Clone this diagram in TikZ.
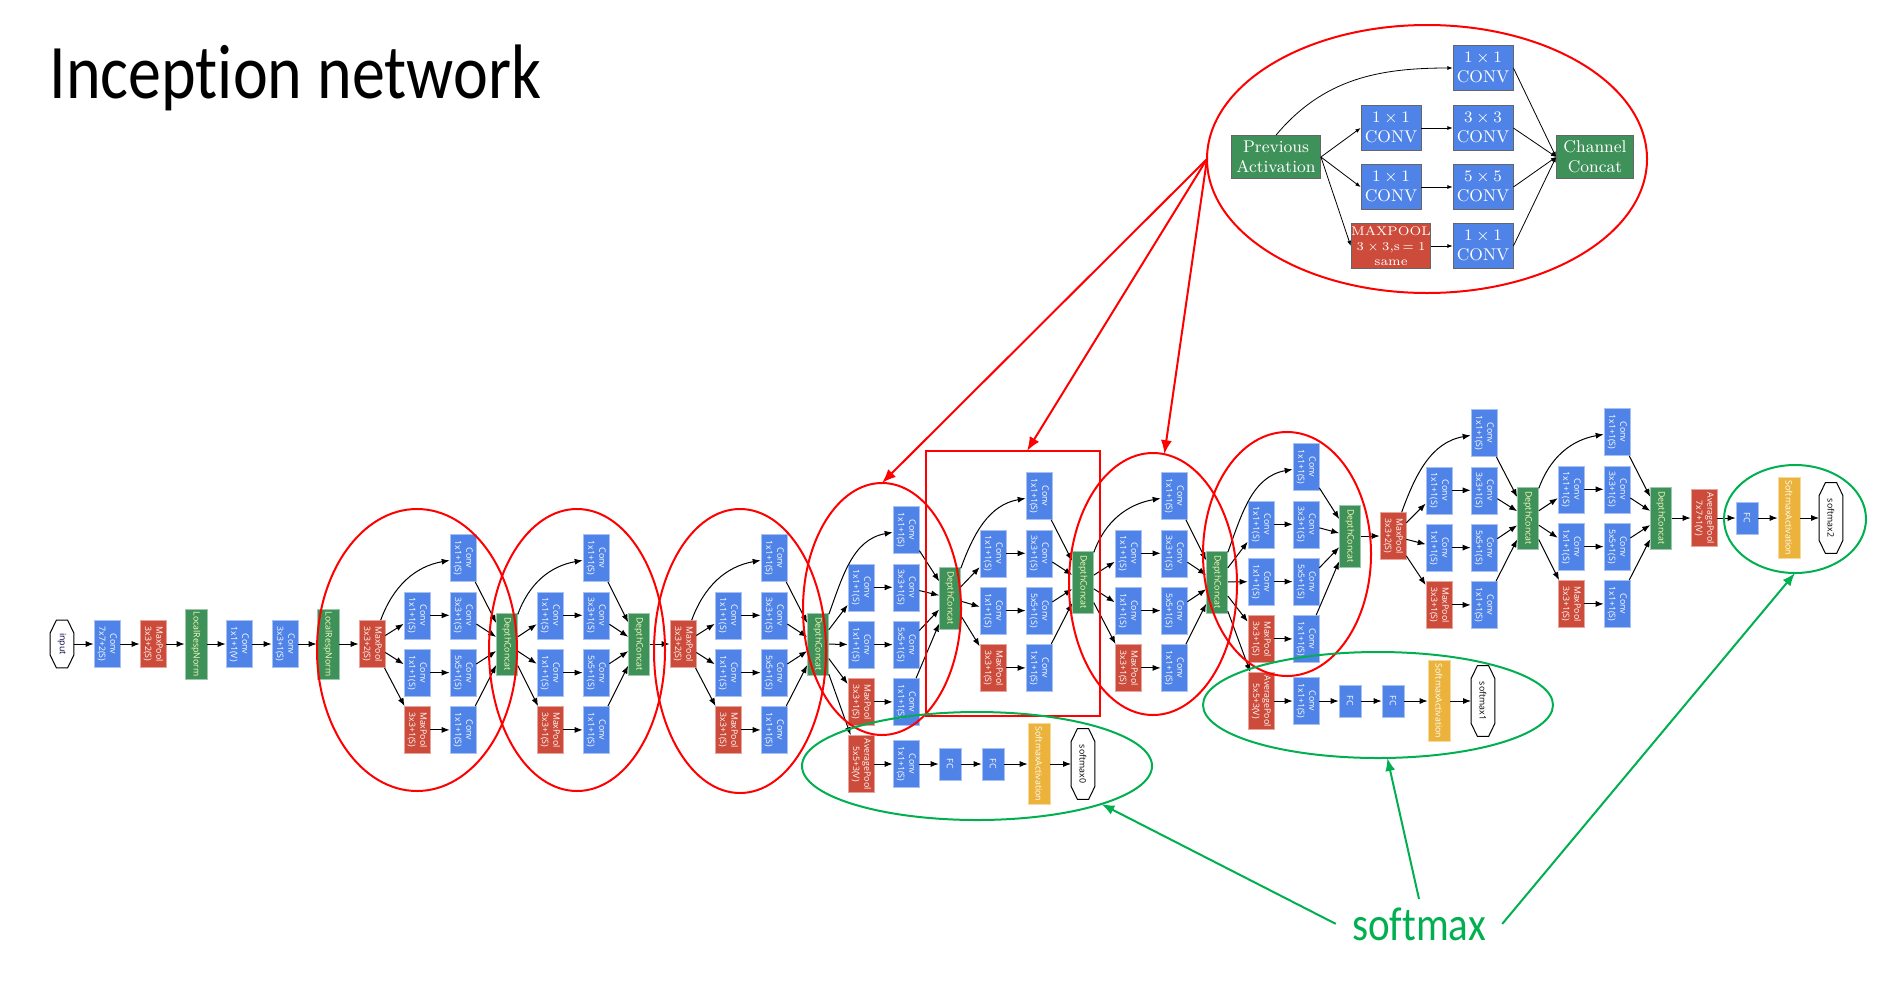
\documentclass[tikz,border=0pt]{standalone}
\usepackage{fontspec}
\usepackage{graphicx}
\usetikzlibrary{shapes.geometric,arrows.meta}
\newfontfamily\slidefont{Carlito}[Ligatures=NoCommon]
\newfontfamily\netfont{Open Sans}
\definecolor{convblue}{HTML}{4F83E8}
\definecolor{poolred}{HTML}{CC4B3A}
\definecolor{catgreen}{HTML}{3E9158}
\definecolor{actyellow}{HTML}{EBB33B}
\definecolor{ringgreen}{HTML}{00B050}
% rotated labels, read from top to bottom
\newcommand{\twol}[2]{\rotatebox{-90}{\begin{tabular}{@{}c@{}}#1\\#2\end{tabular}}}
\newcommand{\onel}[1]{\rotatebox{-90}{#1}}
% octagon outline round a terminal node
\newcommand{\octo}[1]{\draw[line width=0.5pt] ([xshift=-2.8pt]#1.north) -- ([xshift=2.8pt]#1.north)
  -- ([yshift=-6.5pt]#1.north east) -- ([yshift=6.5pt]#1.south east) -- ([xshift=2.8pt]#1.south)
  -- ([xshift=-2.8pt]#1.south) -- ([yshift=6.5pt]#1.south west) -- ([yshift=-6.5pt]#1.north west) -- cycle;}

\begin{document}
\begin{tikzpicture}[x=0.5pt,y=-0.5pt,
    net/.style={inner sep=0pt,font=\netfont\fontsize{4.4}{5.6}\selectfont,text=white},
    conv/.style={net,fill=convblue,draw=convblue!50!white,line width=0.3pt,minimum width=13pt,minimum height=23.5pt},
    pool/.style={conv,fill=poolred,draw=poolred!50!white},
    concat/.style={net,fill=catgreen,draw=catgreen!50!white,line width=0.3pt,text=yellow!25!white,minimum width=10.5pt,minimum height=31pt},
    lrn/.style={concat,minimum width=11pt,minimum height=35pt},
    fc/.style={conv,minimum width=11pt,minimum height=16pt},
    act/.style={net,fill=actyellow,draw=actyellow!50!white,line width=0.3pt,minimum width=11pt,minimum height=40.5pt},
    term/.style={net,text=black,minimum width=11.5pt,minimum height=35pt},
    flow/.style={-{Latex[length=4pt,width=3pt]},line width=0.5pt},
    ring/.style={ellipse,draw=red,line width=1pt,inner sep=0pt,outer sep=0pt},
    gring/.style={ring,draw=ringgreen},
    redarrow/.style={red,line width=1pt,-{Latex[length=7pt,width=5.5pt]}},
    greenarrow/.style={ringgreen,line width=1pt,-{Latex[length=6.5pt,width=5pt]}},
    ibox/.style={fill=convblue,draw=black!60,line width=0.4pt,text=white,inner sep=0pt,align=center,
      font=\fontsize{8.5}{10}\selectfont,minimum width=30pt,minimum height=22.5pt},
    ipool/.style={ibox,fill=poolred,minimum width=35pt,font=\fontsize{6.3}{7.6}\selectfont},
    icat/.style={ibox,fill=catgreen},
    iflow/.style={-{Latex[length=2.6pt,width=2pt]},line width=0.4pt}]
  \useasboundingbox (0,0) rectangle (1899,980);
  \fill[white] (0,0) rectangle (1899,980);

  % Title
  \node[anchor=base west,inner sep=0pt,font=\slidefont\fontsize{33}{40}\selectfont] (title) at (49,98)
    {\scalebox{1}[1.17]{Inception network}};

  % Stem of the network
  \node[term,minimum height=23.5pt,text=black!75!blue] (in) at (62,644) {\onel{input}};
  \octo{in}
  \node[conv] (c1) at (107,644) {\twol{Conv}{7x7+2(S)}};
  \node[pool] (p1) at (153,644) {\twol{MaxPool}{3x3+2(S)}};
  \node[lrn] (n1) at (196,644) {\onel{LocalRespNorm}};
  \node[conv] (c2) at (239,644) {\twol{Conv}{1x1+1(V)}};
  \node[conv] (c3) at (285,644) {\twol{Conv}{3x3+1(S)}};
  \node[lrn] (n2) at (328,644) {\onel{LocalRespNorm}};
  \node[pool] (p2) at (372,644) {\twol{MaxPool}{3x3+2(S)}};
  % Pooling between the stages
  \node[pool] (p3) at (683,644) {\twol{MaxPool}{3x3+2(S)}};
  \node[pool] (p4) at (1393,536) {\twol{MaxPool}{3x3+2(S)}};

  % Inception modules: name/input/col1/col2/top row/concat x/concat y
  \foreach \m/\src/\xa/\xb/\ya/\xd/\yd in {
      a/p2/417/463/558/507/644, b/a-dc/550/596/558/639/644, c/p3/728/774/558/818/644,
      d/c-dc/861/906/530/950/598, e/d-dc/993/1039/496/1083/582, f/e-dc/1128/1174/496/1217/582,
      g/f-dc/1261/1306/467/1350/536, h/p4/1439/1484/433/1528/518, i/h-dc/1571/1617/432/1661/518} {
    \node[conv] (\m-t) at (\xb,\ya) {\twol{Conv}{1x1+1(S)}};
    \node[conv] (\m-2-a) at (\xa,\ya+57.3) {\twol{Conv}{1x1+1(S)}};
    \node[conv] (\m-2-b) at (\xb,\ya+57.3) {\twol{Conv}{3x3+1(S)}};
    \node[conv] (\m-3-a) at (\xa,\ya+114.6) {\twol{Conv}{1x1+1(S)}};
    \node[conv] (\m-3-b) at (\xb,\ya+114.6) {\twol{Conv}{5x5+1(S)}};
    \node[pool] (\m-4-a) at (\xa,\ya+171.9) {\twol{MaxPool}{3x3+1(S)}};
    \node[conv] (\m-4-b) at (\xb,\ya+171.9) {\twol{Conv}{1x1+1(S)}};
    \node[concat] (\m-dc) at (\xd,\yd) {\onel{DepthConcat}};
    \draw[flow] (\src) to[out=70,in=190] (\m-t);
    \foreach \r in {2,3,4} {
      \draw[flow] (\src) -- (\m-\r-a);
      \draw[flow] (\m-\r-a) -- (\m-\r-b);
    }
    \foreach \r in {t,2-b,3-b,4-b}
      \draw[flow] (\m-\r) -- (\m-dc);
  }

  % Auxiliary classifiers
  \foreach \k/\src/\xo/\y in {0/c-dc/861/764, 1/f-dc/1261/701} {
    \node[pool,minimum height=28.5pt] (x\k-ap) at (\xo,\y) {\twol{AveragePool}{5x5+3(V)}};
    \node[conv] (x\k-cv) at (\xo+45,\y) {\twol{Conv}{1x1+1(S)}};
    \node[fc] (x\k-f1) at (\xo+89,\y) {\onel{FC}};
    \node[fc] (x\k-f2) at (\xo+132,\y) {\onel{FC}};
    \node[act] (x\k-sa) at (\xo+178,\y) {\onel{SoftmaxActivation}};
    \node[term] (x\k-out) at (\xo+222,\y) {\onel{softmax\k}};
    \octo{x\k-out}
    \draw[flow] (\src) -- (x\k-ap);
    \foreach \u/\v in {ap/cv, cv/f1, f1/f2, f2/sa, sa/out}
      \draw[flow] (x\k-\u) -- (x\k-\v);
  }

  % Head
  \node[pool,minimum height=28.5pt] (ap) at (1704,518) {\twol{AveragePool}{7x7+1(V)}};
  \node[fc] (fc) at (1747,518) {\onel{FC}};
  \node[act] (sa) at (1789,518) {\onel{SoftmaxActivation}};
  \node[term] (out2) at (1831,518) {\onel{softmax2}};
  \octo{out2}

  % Main chain
  \foreach \u/\v in {in/c1, c1/p1, p1/n1, n1/c2, c2/c3, c3/n2, n2/p2, b-dc/p3, g-dc/p4, i-dc/ap, ap/fc, fc/sa, sa/out2}
    \draw[flow] (\u) -- (\v);

  % Red marks round the inception modules
  \node[ring,minimum width=100pt,minimum height=141pt] (r1) at (417,650) {};
  \node[ring,minimum width=88pt,minimum height=141pt] (r2) at (577,650) {};
  \node[ring,minimum width=86pt,minimum height=142pt] (r3) at (740,651) {};
  \node[ring,minimum width=79pt,minimum height=126pt] (r4) at (882,609) {};
  \node[draw=red,line width=1pt,inner sep=0pt,outer sep=0pt,minimum width=87pt,minimum height=132.5pt] (box) at (1013,583.5) {};
  \node[ring,minimum width=84pt,minimum height=131pt] (r5) at (1153,584) {};
  \node[ring,minimum width=84pt,minimum height=122pt] (r6) at (1287,554) {};

  % Green marks round the softmax outputs
  \node[gring,minimum width=175pt,minimum height=54pt] (g0) at (977,766) {};
  \node[gring,minimum width=175pt,minimum height=53pt] (g1) at (1378,705) {};
  \node[gring,minimum width=71pt,minimum height=54pt] (g2) at (1795,519) {};

  % Inset: one inception module
  \node[ring,minimum width=220pt,minimum height=134pt] (inset) at (1427,159) {};
  \node[icat,minimum width=44.5pt,minimum height=21.5pt] (prev) at (1276,157) {Previous\\Activation};
  \node[ibox] (i1) at (1483,68) {$1\times1$\\CONV};
  \node[ibox] (i2) at (1391,128) {$1\times1$\\CONV};
  \node[ibox] (i3) at (1391,187) {$1\times1$\\CONV};
  \node[ipool] (i4) at (1391,246) {MAXPOOL\\$3\times3$,s$\,=1$\\same};
  \node[ibox] (i5) at (1483,128) {$3\times3$\\CONV};
  \node[ibox] (i6) at (1483,187) {$5\times5$\\CONV};
  \node[ibox] (i7) at (1483,246) {$1\times1$\\CONV};
  \node[icat,minimum width=38.5pt,minimum height=21.5pt] (cc) at (1595,157) {Channel\\Concat};
  \draw[iflow] (prev.north) to[out=50,in=180] (i1.west);
  \foreach \v in {i2,i3,i4}
    \draw[iflow] (prev.east) -- (\v.west);
  \foreach \u/\v in {i2/i5, i3/i6, i4/i7}
    \draw[iflow] (\u) -- (\v);
  \foreach \u in {i1,i5,i6,i7}
    \draw[iflow] (\u.east) -- (cc.west);

  % Red arrows from the inset
  \draw[redarrow] (inset.west) -- (r4.north);
  \draw[redarrow] (inset.west) -- ([xshift=7pt]box.north);
  \draw[redarrow] (inset.west) -- (r5.85);

  % softmax label
  \node[anchor=base,inner xsep=8pt,inner ysep=4pt,text=ringgreen,font=\slidefont\fontsize{20.5}{24}\selectfont] (smx) at (1419,940)
    {\scalebox{1}[1.16]{softmax}};
  \draw[greenarrow] (smx.west) -- (g0.-17);
  \draw[greenarrow] (smx.north) -- (g1.-80);
  \draw[greenarrow] (smx.east) -- (g2.south);
\end{tikzpicture}
\end{document}
